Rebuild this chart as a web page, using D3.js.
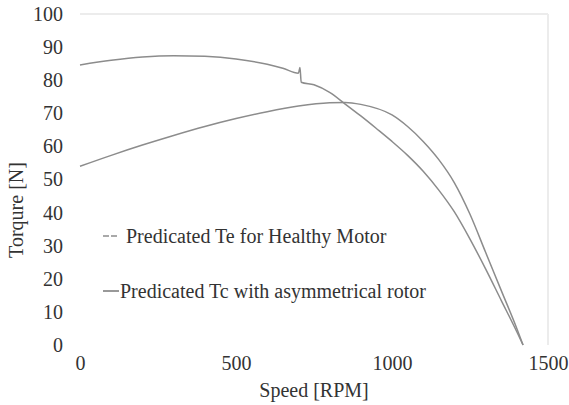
<!DOCTYPE html>
<html>
  <head>
    <meta charset="UTF-8">
    <title>Torque vs Speed</title>
    <script src="https://cdnjs.cloudflare.com/ajax/libs/d3/7.8.5/d3.min.js"></script>
    <style type="text/css">
      body { margin: 0px; background: #fff; }
      svg text { font-family: "Liberation Serif", "DejaVu Serif", "Times New Roman", serif !important; fill: #333; font-size: 20px; }
      .curve { fill: none; stroke: #8c8c8c; stroke-width: 1.5; }
    </style>
  </head>
  <body>
    <div id="chart"></div>
    <script>
      // values
      var speedHealthy  = [0, 100, 200, 300, 400, 500, 600, 650, 700, 705, 709, 750, 800, 850, 900, 950, 1000, 1050, 1100, 1150, 1200, 1250, 1300, 1350, 1400, 1420];
      var torqueHealthy = [84.6, 86, 87, 87.4, 87.2, 86.4, 84.8, 83.6, 82.1, 83.8, 79.4, 78.6, 76.3, 72.8, 69.2, 65.4, 61.5, 57.3, 52.5, 46.8, 40.2, 32, 23, 13.5, 4, 0];
      var speedAsym  = [0, 100, 200, 300, 400, 500, 600, 700, 800, 850, 900, 1000, 1050, 1100, 1150, 1200, 1250, 1300, 1350, 1400, 1420];
      var torqueAsym = [54, 57.3, 60.4, 63.3, 66, 68.4, 70.5, 72.2, 73.2, 73.3, 72.7, 69.5, 66, 61.5, 56, 49, 39.5, 28, 16.5, 5, 0];
      var xTicks = [0, 500, 1000, 1500];
      var yTicks = [0, 10, 20, 30, 40, 50, 60, 70, 80, 90, 100];
      var legendLabels = ["Predicated Te for Healthy Motor", "Predicated Tc with asymmetrical rotor"];

      const width = 569, height = 405;
      const margin = {top: 14, right: 21, bottom: 60, left: 80};

      const svg = d3.select("#chart").append("svg")
        .attr("width", width)
        .attr("height", height);

      const x = d3.scaleLinear().domain([0, 1500]).range([margin.left, width - margin.right]);
      const y = d3.scaleLinear().domain([0, 100]).range([height - margin.bottom, margin.top]);

      // faint frame lines (top + right)
      svg.append("line")
        .attr("x1", x(0)).attr("x2", x(1500))
        .attr("y1", y(100)).attr("y2", y(100))
        .attr("stroke", "#ececec").attr("stroke-width", 2);
      svg.append("line")
        .attr("x1", x(1500)).attr("x2", x(1500))
        .attr("y1", y(100)).attr("y2", y(0))
        .attr("stroke", "#ececec").attr("stroke-width", 2);

      // y axis
      const yAxis = svg.append("g")
        .attr("transform", `translate(${x(0)},0)`)
        .call(d3.axisLeft(y).tickValues(yTicks).tickFormat(d3.format("d")).tickSize(0).tickPadding(17));
      yAxis.attr("font-family", null).attr("font-size", null);
      yAxis.select(".domain").remove();

      // x axis
      const xAxis = svg.append("g")
        .attr("transform", `translate(0,${y(0)})`)
        .call(d3.axisBottom(x).tickValues(xTicks).tickFormat(d3.format("d")).tickSize(0).tickPadding(11));
      xAxis.attr("font-family", null).attr("font-size", null);
      xAxis.select(".domain").remove();

      // axis titles
      svg.append("text")
        .attr("x", (x(0) + x(1500)) / 2)
        .attr("y", 397)
        .attr("text-anchor", "middle")
        .text("Speed [RPM]");
      svg.append("text")
        .attr("transform", "translate(23,210) rotate(-90)")
        .attr("text-anchor", "middle")
        .text("Torqure [N]");

      // curves
      const line = d3.line().curve(d3.curveMonotoneX).x(d => x(d[0])).y(d => y(d[1]));
      svg.append("path").attr("class", "curve")
        .attr("d", line(speedAsym.map((s, i) => [s, torqueAsym[i]])));
      svg.append("path").attr("class", "curve")
        .attr("d", line(speedHealthy.map((s, i) => [s, torqueHealthy[i]])));

      // legend
      const legend = svg.append("g");
      legend.append("line")
        .attr("x1", 103).attr("x2", 117).attr("y1", 236).attr("y2", 236)
        .attr("stroke", "#555").attr("stroke-width", 1.2).attr("stroke-dasharray", "6,2");
      legend.append("text").attr("x", 126).attr("y", 243).text(legendLabels[0]);
      legend.append("line")
        .attr("x1", 103).attr("x2", 119).attr("y1", 291).attr("y2", 291)
        .attr("stroke", "#555").attr("stroke-width", 1.2);
      legend.append("text").attr("x", 120).attr("y", 298).text(legendLabels[1]);
    </script>
  </body>
</html>
